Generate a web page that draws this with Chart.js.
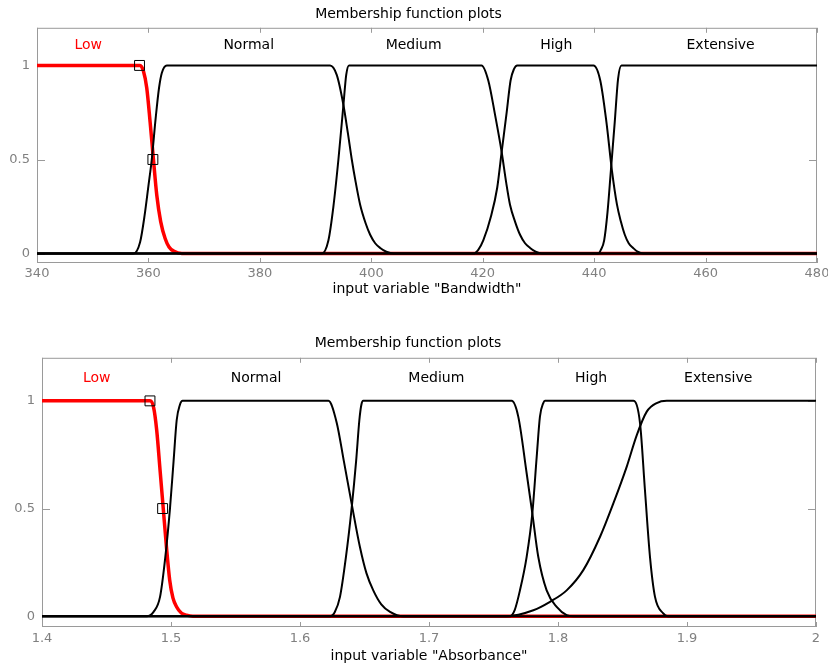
<!DOCTYPE html>
<html>
<head>
<meta charset="utf-8">
<script src="https://cdn.jsdelivr.net/npm/chart.js@4.4.1/dist/chart.umd.min.js"></script>
<style>
  body { margin: 0; background: #fff; }
  canvas { position: absolute; left: 0; }
</style>
</head>
<body>
<canvas id="bwChart" width="828" height="300" style="top:0"></canvas>
<canvas id="abChart" width="828" height="336" style="top:330px"></canvas>
<script>
// tick labels
const bwTicks = [340, 360, 380, 400, 420, 440, 460, 480];
const abTicks = [1.4, 1.5, 1.6, 1.7, 1.8, 1.9, 2];
const yTicks = [0, 0.5, 1];

// membership function names + where they sit on the x axis
const mfNames = ["Low", "Normal", "Medium", "High", "Extensive"];
const bwNamePos = [349.2, 378, 407.6, 433.2, 462.7];
const abNamePos = [1.4424, 1.566, 1.7057, 1.8257, 1.9242];

// Bandwidth curves [x, membership]
const bwLow = [[340,1],[358.5,1],[359.1,0.97],[359.7,0.88],[360.3,0.7],[360.9,0.5],[361.5,0.31],[362.2,0.17],[363,0.08],[363.7,0.035],[364.6,0.012],[366,0],[480,0]];
const bwNormal = [[340,0],[357.3,0],[358.5,0.06],[359.3,0.2],[360,0.36],[360.6,0.5],[361.3,0.72],[361.9,0.88],[362.4,0.96],[363.3,1],[392.6,1],[393.8,0.95],[395,0.79],[395.8,0.64],[396.5,0.5],[397.2,0.38],[398,0.26],[399,0.16],[399.8,0.1],[400.7,0.055],[401.6,0.03],[402.7,0.01],[404,0],[480,0]];
const bwMedium = [[340,0],[391.1,0],[392.3,0.07],[393.2,0.25],[394.1,0.5],[395,0.79],[395.5,0.95],[396,1],[419.8,1],[421,0.92],[422.2,0.74],[423.4,0.54],[424.2,0.38],[424.9,0.26],[425.8,0.17],[426.7,0.1],[427.6,0.055],[428.5,0.03],[429.5,0.01],[430.6,0],[480,0]];
const bwHigh = [[340,0],[418.3,0],[419.2,0.02],[420.1,0.07],[421.5,0.2],[422.6,0.35],[423.4,0.54],[424.3,0.75],[425,0.92],[425.6,0.98],[426.2,1],[439.9,1],[441.1,0.92],[442.2,0.7],[443.2,0.44],[444.1,0.26],[444.8,0.17],[445.5,0.1],[446.2,0.055],[447,0.03],[447.8,0.01],[448.8,0],[480,0]];
const bwExtensive = [[340,0],[440.7,0],[441.2,0.02],[441.8,0.07],[442.4,0.22],[443,0.44],[443.7,0.7],[444.3,0.93],[444.9,1],[480,1]];
const bwMarks = [[358.4,1],[360.8,0.5]];

// Absorbance curves [x, membership]
const abLow = [[1.4,1],[1.4837,1],[1.4865,0.97],[1.4889,0.865],[1.4915,0.68],[1.494,0.5],[1.4965,0.32],[1.499,0.167],[1.5015,0.085],[1.5044,0.043],[1.508,0.015],[1.512,0.005],[1.517,0],[2,0]];
const abNormal = [[1.4,0],[1.4811,0],[1.4865,0.02],[1.4915,0.09],[1.4955,0.27],[1.4992,0.5],[1.502,0.72],[1.5044,0.91],[1.5068,0.98],[1.509,1],[1.622,1],[1.6284,0.9],[1.634,0.72],[1.64,0.524],[1.6465,0.32],[1.6515,0.2],[1.6568,0.12],[1.663,0.055],[1.6698,0.02],[1.68,0],[2,0]];
const abMedium = [[1.4,0],[1.6233,0],[1.627,0.02],[1.631,0.09],[1.6355,0.27],[1.64,0.5],[1.6435,0.72],[1.646,0.91],[1.6475,0.98],[1.649,1],[1.7641,1],[1.7692,0.927],[1.7757,0.664],[1.7801,0.478],[1.7847,0.276],[1.7912,0.12],[1.799,0.043],[1.8067,0.005],[1.812,0],[2,0]];
const abHigh = [[1.4,0],[1.7628,0],[1.7665,0.03],[1.7705,0.12],[1.7757,0.276],[1.7801,0.478],[1.7835,0.741],[1.786,0.927],[1.7886,0.99],[1.7899,1],[1.8584,1],[1.8636,0.896],[1.8674,0.586],[1.8713,0.276],[1.8752,0.09],[1.8816,0.013],[1.885,0],[2,0]];
const abExtensive = [[1.4,0],[1.76,0],[1.7809,0.028],[1.7938,0.067],[1.8067,0.12],[1.8196,0.214],[1.8326,0.369],[1.8429,0.524],[1.8533,0.695],[1.861,0.84],[1.8688,0.95],[1.8765,0.99],[1.8843,1],[2,1]];
const abMarks = [[1.4837,1],[1.4935,0.5]];

Chart.defaults.font.family = "'DejaVu Sans', sans-serif";
Chart.defaults.animation = false;

const pts = arr => arr.map(([x, y]) => ({ x, y }));

// matlab style box, inward ticks and the curve names
const mfDecor = {
    id: "mfDecor",
    beforeDatasetsDraw(chart) {
        const { ctx, chartArea: a, scales: { x, y } } = chart;
        ctx.save();
        ctx.strokeStyle = "#9a9a9a";
        ctx.lineWidth = 1;
        ctx.strokeRect(a.left + 0.5, a.top + 0.5, a.width - 1, a.height - 1);
        ctx.beginPath();
        x.ticks.forEach(t => {
            const px = Math.round(x.getPixelForValue(t.value)) + 0.5;
            ctx.moveTo(px, a.top); ctx.lineTo(px, a.top + 5);
            ctx.moveTo(px, a.bottom); ctx.lineTo(px, a.bottom - 5);
        });
        y.ticks.forEach(t => {
            const py = Math.round(y.getPixelForValue(t.value)) + 0.5;
            ctx.moveTo(a.left, py); ctx.lineTo(a.left + 8, py);
            ctx.moveTo(a.right, py); ctx.lineTo(a.right - 8, py);
        });
        ctx.stroke();
        ctx.restore();
    },
    afterDatasetsDraw(chart, args, opts) {
        const { ctx, scales: { x, y } } = chart;
        ctx.save();
        ctx.font = "14px 'DejaVu Sans'";
        ctx.textAlign = "center";
        ctx.textBaseline = "middle";
        opts.names.forEach((n, i) => {
            ctx.fillStyle = i === 0 ? "#ff0000" : "#000";
            ctx.fillText(n, x.getPixelForValue(opts.xs[i]), y.getPixelForValue(opts.y));
        });
        ctx.restore();
    }
};

function mfChart(id, curves, marks, ticks, namePos, xTitle, cfg) {
    const black = curves.slice(1).map(c => ({
        data: pts(c), borderColor: "#000", borderWidth: 2, pointRadius: 0,
        cubicInterpolationMode: "monotone", order: 1
    }));
    return new Chart(document.getElementById(id), {
        type: "line",
        data: {
            datasets: [
                { data: pts(marks), showLine: false, pointStyle: "rect", pointRadius: 7,
                  pointBorderWidth: 1, pointBorderColor: "#000",
                  pointBackgroundColor: "rgba(0,0,0,0)", order: 0 },
                ...black,
                { data: pts(curves[0]), borderColor: "#ff0000", borderWidth: 3.5, pointRadius: 0,
                  cubicInterpolationMode: "monotone", order: 2 }
            ]
        },
        options: {
            responsive: false,
            events: [],
            layout: { padding: { left: 0, right: cfg.right, top: 0, bottom: 0 } },
            plugins: {
                legend: { display: false },
                tooltip: { enabled: false },
                title: {
                    display: true, text: "Membership function plots", color: "#000",
                    font: { size: 14, weight: "normal" }, padding: cfg.titlePad
                },
                mfDecor: { names: mfNames, xs: namePos, y: 1.105 }
            },
            scales: {
                x: {
                    type: "linear", min: ticks[0], max: ticks[ticks.length - 1],
                    afterBuildTicks: s => { s.ticks = ticks.map(v => ({ value: v })); },
                    afterFit: s => { s.height = cfg.xh; s.paddingLeft = 0; s.paddingRight = 0; },
                    ticks: { color: "#808080", font: { size: 13 }, padding: cfg.tickPad,
                             maxRotation: 0, autoSkip: false, callback: v => String(v) },
                    grid: { display: false, drawTicks: false },
                    border: { display: false },
                    title: { display: true, text: xTitle, color: "#000",
                             font: { size: 14 }, padding: { top: 0, bottom: cfg.xTitlePad } }
                },
                y: {
                    min: -0.05, max: 1.2,
                    afterBuildTicks: s => { s.ticks = yTicks.map(v => ({ value: v })); },
                    afterFit: s => { s.width = cfg.left; s.paddingTop = 0; s.paddingBottom = 0; },
                    ticks: { color: "#808080", font: { size: 13 }, padding: 7, callback: v => String(v) },
                    grid: { display: false, drawTicks: false },
                    border: { display: false }
                }
            }
        },
        plugins: [mfDecor]
    });
}

mfChart("bwChart", [bwLow, bwNormal, bwMedium, bwHigh, bwExtensive], bwMarks, bwTicks, bwNamePos,
    'input variable "Bandwidth"',
    { right: 11, left: 37, xh: 37, tickPad: 3, xTitlePad: 2, titlePad: { top: 6, bottom: 5 } });

mfChart("abChart", [abLow, abNormal, abMedium, abHigh, abExtensive], abMarks, abTicks, abNamePos,
    'input variable "Absorbance"',
    { right: 12, left: 42, xh: 39, tickPad: 4, xTitlePad: 1, titlePad: { top: 5, bottom: 6 } });
</script>
</body>
</html>
